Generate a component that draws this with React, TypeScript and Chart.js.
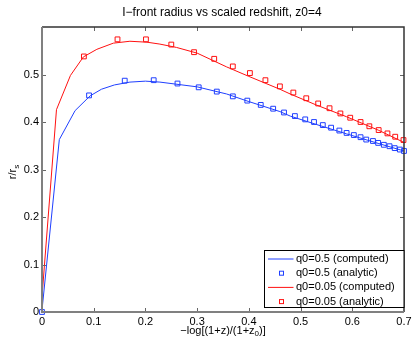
import React, { useEffect, useRef } from 'react';
import { Chart, registerables } from 'chart.js';

Chart.register(...registerables);

const xTicks = [0, 0.1, 0.2, 0.3, 0.4, 0.5, 0.6, 0.7];
const yTicks = [0, 0.1, 0.2, 0.3, 0.4, 0.5];

const blueLineX = [0, 0.0335, 0.064, 0.093, 0.115, 0.14, 0.17, 0.2, 0.228, 0.3, 0.357, 0.4, 0.46, 0.48, 0.53, 0.589, 0.65, 0.7];
const blueLineY = [0.004, 0.363, 0.424, 0.455, 0.469, 0.478, 0.484, 0.486, 0.484, 0.474, 0.459, 0.443, 0.422, 0.4125, 0.395, 0.375, 0.355, 0.339];

const blueSqX = [0, 0.091, 0.16, 0.216, 0.262, 0.303, 0.338, 0.369, 0.397, 0.423, 0.447, 0.468, 0.489, 0.509, 0.526, 0.543, 0.559, 0.575, 0.589, 0.603, 0.616, 0.627, 0.64, 0.65, 0.661, 0.672, 0.682, 0.692, 0.7];
const blueSqY = [0, 0.456, 0.487, 0.488, 0.481, 0.473, 0.464, 0.454, 0.445, 0.436, 0.428, 0.42, 0.4125, 0.4055, 0.4, 0.3935, 0.388, 0.382, 0.377, 0.3725, 0.368, 0.363, 0.36, 0.356, 0.352, 0.349, 0.345, 0.342, 0.339];

const redLineX = [0, 0.028, 0.055, 0.08, 0.106, 0.138, 0.17, 0.203, 0.228, 0.26, 0.3, 0.357, 0.4, 0.46, 0.48, 0.53, 0.589, 0.65, 0.7];
const redLineY = [0.032, 0.426, 0.498, 0.537, 0.553, 0.566, 0.57, 0.568, 0.564, 0.557, 0.545, 0.516, 0.496, 0.469, 0.459, 0.436, 0.411, 0.383, 0.357];

const redSqX = [0.081, 0.146, 0.201, 0.25, 0.294, 0.333, 0.369, 0.402, 0.432, 0.46, 0.486, 0.511, 0.534, 0.556, 0.577, 0.596, 0.616, 0.633, 0.651, 0.668, 0.683, 0.699];
const redSqY = [0.538, 0.574, 0.574, 0.563, 0.547, 0.533, 0.517, 0.503, 0.488, 0.475, 0.462, 0.45, 0.439, 0.429, 0.418, 0.409, 0.4, 0.391, 0.383, 0.376, 0.369, 0.362];

const seriesLabels = ['q0=0.5 (computed)', 'q0=0.5 (analytic)', 'q0=0.05 (computed)', 'q0=0.05 (analytic)'];
const titleText = 'I\u2212front radius vs scaled redshift, z0=4';

const BLUE = '#1f3fff';
const RED = '#ff1010';
const FONT = '"Liberation Sans", Arial, Helvetica, sans-serif';

const zip = (xs: number[], ys: number[]) => xs.map((x, i) => ({ x, y: ys[i] }));

type Part = { t: string; sub?: boolean };

function drawParts(ctx: CanvasRenderingContext2D, parts: Part[], cx: number, cy: number) {
  const widths = parts.map((p) => {
    ctx.font = `${p.sub ? 8 : 11}px ${FONT}`;
    return ctx.measureText(p.t).width;
  });
  const total = widths.reduce((a, b) => a + b, 0);
  let x = cx - total / 2;
  ctx.textAlign = 'left';
  ctx.textBaseline = 'middle';
  parts.forEach((p, i) => {
    ctx.font = `${p.sub ? 8 : 11}px ${FONT}`;
    ctx.fillText(p.t, x, cy + (p.sub ? 3.5 : 0));
    x += widths[i];
  });
}

const framePlugin = {
  id: 'matlabFrame',
  afterDraw(chart: any) {
    const { ctx, chartArea } = chart;
    const { left, right, top, bottom } = chartArea;
    const xs = chart.scales.x;
    const ys = chart.scales.y;
    ctx.save();

    // inward ticks
    ctx.strokeStyle = '#666';
    ctx.lineWidth = 1;
    ctx.beginPath();
    xTicks.forEach((v) => {
      const px = Math.round(xs.getPixelForValue(v)) + 0.5;
      if (px <= left + 1 || px >= right - 1) return;
      ctx.moveTo(px, bottom);
      ctx.lineTo(px, bottom - 4);
      ctx.moveTo(px, top);
      ctx.lineTo(px, top + 4);
    });
    yTicks.forEach((v) => {
      const py = Math.round(ys.getPixelForValue(v)) + 0.5;
      if (py >= bottom - 1 || py <= top + 1) return;
      ctx.moveTo(left, py);
      ctx.lineTo(left + 4, py);
      ctx.moveTo(right, py);
      ctx.lineTo(right - 4, py);
    });
    ctx.stroke();

    // top/right borders
    ctx.strokeStyle = '#333';
    ctx.lineWidth = 1.5;
    ctx.beginPath();
    ctx.moveTo(left, top);
    ctx.lineTo(right, top);
    ctx.lineTo(right, bottom);
    ctx.stroke();
    // left/bottom axes
    ctx.strokeStyle = '#808080';
    ctx.lineWidth = 2;
    ctx.beginPath();
    ctx.moveTo(left, top);
    ctx.lineTo(left, bottom);
    ctx.lineTo(right, bottom);
    ctx.stroke();

    // title
    ctx.fillStyle = '#000';
    ctx.font = `12px ${FONT}`;
    ctx.textAlign = 'center';
    ctx.textBaseline = 'middle';
    ctx.fillText(titleText, (left + right) / 2 - 1, 13);

    // x label
    drawParts(ctx, [{ t: '\u2212log[(1+z)/(1+z' }, { t: '0', sub: true }, { t: ')]' }], (left + right) / 2, 330.5);

    // y label
    ctx.save();
    ctx.translate(13, 172);
    ctx.rotate(-Math.PI / 2);
    drawParts(ctx, [{ t: 'r/r' }, { t: 's', sub: true }], 0, 0);
    ctx.restore();

    // legend
    const lx = 264.5;
    const ly = 250.5;
    const lw = right - lx;
    const lh = 57;
    ctx.fillStyle = '#fff';
    ctx.fillRect(lx, ly, lw, lh);
    ctx.strokeStyle = '#000';
    ctx.lineWidth = 1;
    ctx.strokeRect(lx, ly, lw, lh);
    chart.data.datasets.forEach((ds: any, i: number) => {
      const ry = 259 + i * 14.2;
      if (ds.showLine) {
        ctx.strokeStyle = ds.borderColor;
        ctx.lineWidth = 1;
        ctx.beginPath();
        ctx.moveTo(268, ry);
        ctx.lineTo(293.5, ry);
        ctx.stroke();
      } else {
        ctx.strokeStyle = ds.borderColor;
        ctx.lineWidth = 1;
        ctx.strokeRect(279.5, ry - 2, 4, 4);
      }
      ctx.fillStyle = '#000';
      ctx.font = `11px ${FONT}`;
      ctx.textAlign = 'left';
      ctx.textBaseline = 'middle';
      ctx.fillText(ds.label, 296, ry);
    });
    ctx.restore();
  },
};

export default function App() {
  const ref = useRef<HTMLCanvasElement | null>(null);

  useEffect(() => {
    document.body.style.margin = '0';
    const canvas = ref.current;
    if (!canvas) return;
    const lineDs = (label: string, xs: number[], ys: number[], color: string) => ({
      label,
      data: zip(xs, ys),
      showLine: true,
      borderColor: color,
      backgroundColor: color,
      borderWidth: 1,
      pointRadius: 0,
      tension: 0,
    });
    const sqDs = (label: string, xs: number[], ys: number[], color: string) => ({
      label,
      data: zip(xs, ys),
      showLine: false,
      borderColor: color,
      backgroundColor: 'rgba(0,0,0,0)',
      borderWidth: 1,
      pointStyle: 'rect',
      pointRadius: 3.4,
      clip: false,
    });
    const chart = new Chart(canvas, {
      type: 'scatter',
      data: {
        datasets: [
          lineDs(seriesLabels[0], blueLineX, blueLineY, BLUE),
          sqDs(seriesLabels[1], blueSqX, blueSqY, BLUE),
          lineDs(seriesLabels[2], redLineX, redLineY, RED),
          sqDs(seriesLabels[3], redSqX, redSqY, RED),
        ] as any,
      },
      options: {
        animation: false,
        responsive: false,
        maintainAspectRatio: false,
        events: [],
        layout: { padding: { top: 27, right: 11, left: 0, bottom: 0 } },
        plugins: {
          legend: { display: false },
          title: { display: false },
          tooltip: { enabled: false },
        },
        scales: {
          x: {
            type: 'linear',
            min: 0,
            max: 0.7,
            grid: { display: false, drawTicks: false },
            border: { display: false },
            afterBuildTicks: (s: any) => {
              s.ticks = xTicks.map((v) => ({ value: v }));
            },
            afterFit: (s: any) => {
              s.height = 32;
            },
            ticks: {
              padding: 3,
              color: '#000',
              font: { family: FONT, size: 11 },
              maxRotation: 0,
              autoSkip: false,
              callback: (v: any) => String(v),
            },
          },
          y: {
            type: 'linear',
            min: 0,
            max: 0.6,
            grid: { display: false, drawTicks: false },
            border: { display: false },
            afterBuildTicks: (s: any) => {
              s.ticks = yTicks.map((v) => ({ value: v }));
            },
            afterFit: (s: any) => {
              s.width = 42;
            },
            ticks: {
              padding: 3,
              color: '#000',
              font: { family: FONT, size: 11 },
              autoSkip: false,
              callback: (v: any) => String(v),
            },
          },
        },
      } as any,
      plugins: [framePlugin],
    });
    return () => chart.destroy();
  }, []);

  return (
    <canvas
      ref={ref}
      width={415}
      height={344}
      style={{ display: 'block', width: 415, height: 344 }}
    />
  );
}
